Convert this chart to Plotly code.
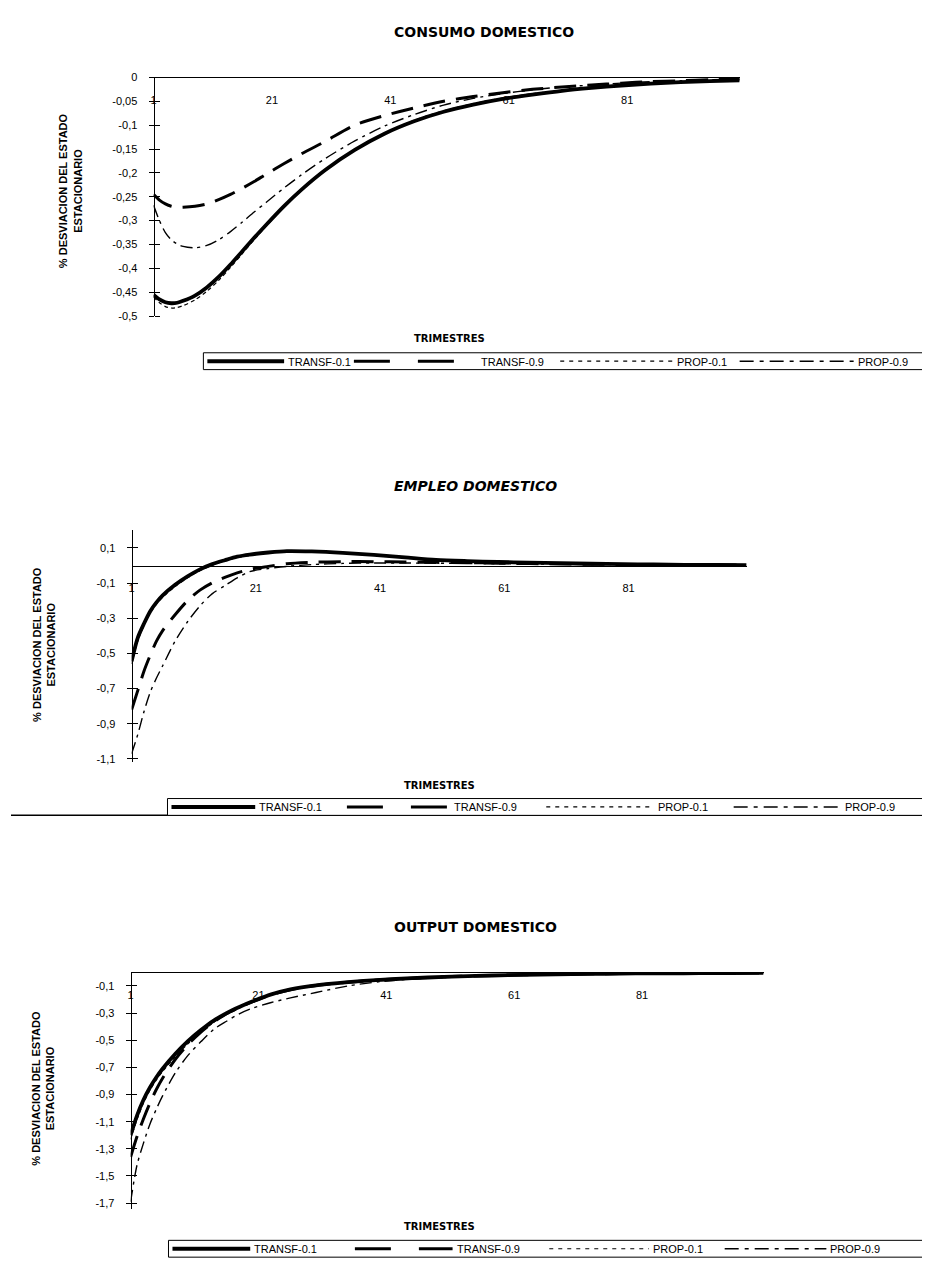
import plotly.graph_objects as go

W, H = 930, 1273

# ---------------- data ----------------
periods = [1, 2, 3, 4, 5, 6, 8, 10, 12, 14, 16, 18, 20, 23, 26, 30, 35, 40, 45, 50,
           55, 60, 65, 70, 75, 80, 85, 90, 95, 100]

series_names = ["TRANSF-0.1", "TRANSF-0.9", "PROP-0.1", "PROP-0.9"]

# CONSUMO DOMESTICO
cons_transf01 = [-0.455, -0.465, -0.471, -0.473, -0.472, -0.468, -0.457, -0.440, -0.418, -0.392,
                 -0.364, -0.336, -0.309, -0.270, -0.235, -0.194, -0.152, -0.118, -0.092, -0.072,
                 -0.057, -0.045, -0.036, -0.028, -0.022, -0.017, -0.013, -0.010, -0.008, -0.006]
cons_transf09 = [-0.245, -0.257, -0.265, -0.270, -0.272, -0.272, -0.270, -0.265, -0.256, -0.245,
                 -0.232, -0.218, -0.203, -0.181, -0.160, -0.134, -0.100, -0.080, -0.064, -0.050,
                 -0.040, -0.032, -0.025, -0.020, -0.016, -0.012, -0.009, -0.007, -0.005, -0.004]
cons_prop01 = [-0.460, -0.472, -0.480, -0.483, -0.482, -0.478, -0.466, -0.448, -0.425, -0.398,
               -0.369, -0.340, -0.312, -0.272, -0.236, -0.195, -0.152, -0.117, -0.090, -0.070,
               -0.055, -0.043, -0.034, -0.027, -0.021, -0.016, -0.012, -0.009, -0.007, -0.005]
cons_prop09 = [-0.268, -0.300, -0.325, -0.340, -0.349, -0.354, -0.357, -0.352, -0.340, -0.323,
               -0.303, -0.282, -0.262, -0.232, -0.204, -0.170, -0.133, -0.102, -0.078, -0.058,
               -0.044, -0.034, -0.026, -0.020, -0.016, -0.012, -0.009, -0.007, -0.005, -0.004]

# EMPLEO DOMESTICO
emp_transf01 = [-0.545, -0.410, -0.330, -0.260, -0.210, -0.170, -0.110, -0.062, -0.022, 0.008,
                0.030, 0.050, 0.062, 0.074, 0.082, 0.080, 0.072, 0.060, 0.046, 0.032,
                0.025, 0.020, 0.016, 0.013, 0.010, 0.008, 0.006, 0.004, 0.003, 0.002]
emp_transf09 = [-0.820, -0.710, -0.600, -0.510, -0.430, -0.370, -0.280, -0.200, -0.140, -0.098,
                -0.068, -0.042, -0.022, -0.005, 0.010, 0.018, 0.022, 0.022, 0.020, 0.018,
                0.016, 0.013, 0.011, 0.009, 0.007, 0.006, 0.005, 0.004, 0.003, 0.002]
emp_prop01 = [-0.560, -0.430, -0.340, -0.270, -0.220, -0.180, -0.120, -0.070, -0.030, 0.002,
              0.025, 0.045, 0.057, 0.070, 0.078, 0.077, 0.070, 0.058, 0.045, 0.032,
              0.025, 0.020, 0.016, 0.013, 0.010, 0.008, 0.006, 0.004, 0.003, 0.002]
emp_prop09 = [-1.070, -0.960, -0.830, -0.720, -0.640, -0.570, -0.430, -0.320, -0.230, -0.160,
              -0.115, -0.070, -0.035, -0.017, -0.005, 0.005, 0.012, 0.014, 0.014, 0.013,
              0.012, 0.010, 0.009, 0.007, 0.006, 0.005, 0.004, 0.003, 0.002, 0.002]

# OUTPUT DOMESTICO
out_transf01 = [-1.200, -1.055, -0.940, -0.850, -0.775, -0.710, -0.600, -0.505, -0.425, -0.355,
                -0.300, -0.255, -0.215, -0.162, -0.125, -0.095, -0.072, -0.055, -0.043, -0.033,
                -0.026, -0.020, -0.016, -0.013, -0.010, -0.008, -0.007, -0.006, -0.005, -0.004]
out_transf09 = [-1.360, -1.210, -1.080, -0.965, -0.865, -0.780, -0.640, -0.530, -0.440, -0.365,
                -0.305, -0.258, -0.217, -0.165, -0.128, -0.097, -0.072, -0.055, -0.043, -0.033,
                -0.026, -0.020, -0.016, -0.013, -0.010, -0.008, -0.007, -0.006, -0.005, -0.004]
out_prop01 = [-1.230, -1.085, -0.965, -0.870, -0.795, -0.730, -0.620, -0.525, -0.440, -0.368,
              -0.310, -0.263, -0.222, -0.168, -0.130, -0.099, -0.074, -0.057, -0.044, -0.034,
              -0.026, -0.020, -0.016, -0.013, -0.010, -0.008, -0.007, -0.006, -0.005, -0.004]
out_prop09 = [-1.690, -1.420, -1.260, -1.120, -1.010, -0.910, -0.740, -0.610, -0.510, -0.420,
              -0.360, -0.305, -0.265, -0.222, -0.188, -0.148, -0.100, -0.068, -0.050, -0.038,
              -0.029, -0.022, -0.017, -0.014, -0.011, -0.009, -0.007, -0.006, -0.005, -0.004]

x_tick_vals = [1, 21, 41, 61, 81]
x_tick_text = ["1", "21", "41", "61", "81"]

cons_tick_vals = [0, -0.05, -0.1, -0.15, -0.2, -0.25, -0.3, -0.35, -0.4, -0.45, -0.5]
cons_tick_text = ["0", "-0,05", "-0,1", "-0,15", "-0,2", "-0,25", "-0,3", "-0,35", "-0,4", "-0,45", "-0,5"]
emp_tick_vals = [0.1, -0.1, -0.3, -0.5, -0.7, -0.9, -1.1]
emp_tick_text = ["0,1", "-0,1", "-0,3", "-0,5", "-0,7", "-0,9", "-1,1"]
out_tick_vals = [-0.1, -0.3, -0.5, -0.7, -0.9, -1.1, -1.3, -1.5, -1.7]
out_tick_text = ["-0,1", "-0,3", "-0,5", "-0,7", "-0,9", "-1,1", "-1,3", "-1,5", "-1,7"]

titles = ["CONSUMO DOMESTICO", "EMPLEO DOMESTICO", "OUTPUT DOMESTICO"]
x_title = "TRIMESTRES"
y_title = "% DESVIACION DEL ESTADO<br>ESTACIONARIO"

# ---------------- styles ----------------
styles = [
    dict(width=3.8, dash="solid"),
    dict(width=3.0, dash="22px,11px"),
    dict(width=1.2, dash="4px,3px"),
    dict(width=1.4, dash="12px,5px,3px,5px"),
]
legend_dash = ["solid", "36px,28px", "4px,5px", "14px,6px,4px,6px"]
legend_width = [4.0, 3.0, 1.2, 1.4]
FONT = "Liberation Sans, Arial, sans-serif"
TFONT = "DejaVu Sans, Liberation Sans, sans-serif"


def px_x(p):
    return p / W


def px_y(p):
    return 1 - p / H


charts = [
    dict(data=[cons_transf01, cons_transf09, cons_prop01, cons_prop09],
         xdom=(143, 731), ytop=64, ybot=305, yrange=(-0.5, 0.0), zero_px=64,
         tv=cons_tick_vals, tt=cons_tick_text,
         box=(193, 925, 342, 359),
         samples=[(197, 274), (344, 468), (551, 664), (731, 846)],
         texts=[276, 470, 666, 848],
         title_y=18, title_italic=False,
         ytitle_x=60, ytitle_y=178, xtitle_x=440, xtitle_y=328),
    dict(data=[emp_transf01, emp_transf09, emp_prop01, emp_prop09],
         xdom=(121, 738), ytop=521.25, ybot=754.7, yrange=(-1.115, 0.2), zero_px=556.75,
         tv=emp_tick_vals, tt=emp_tick_text,
         box=(157, 926, 792, 809),
         samples=[(161, 245), (337, 440), (537, 645), (725, 833)],
         texts=[247, 442, 647, 835],
         title_y=476, title_italic=True,
         ytitle_x=33, ytitle_y=636, xtitle_x=430, xtitle_y=779),
    dict(data=[out_transf01, out_transf09, out_prop01, out_prop09],
         xdom=(120, 755), ytop=967.5, ybot=1205.9, yrange=(-1.74, 0.0), zero_px=967.5,
         tv=out_tick_vals, tt=out_tick_text,
         box=(158, 918, 1238, 1255),
         samples=[(162, 240), (345, 443), (540, 640), (716, 818)],
         texts=[242, 445, 642, 820],
         title_y=922, title_italic=False,
         ytitle_x=32, ytitle_y=1084, xtitle_x=430, xtitle_y=1224),
]

fig = go.Figure()
layout = dict(
    width=W, height=H, margin=dict(l=0, r=0, t=0, b=0),
    paper_bgcolor="white", plot_bgcolor="white", showlegend=False,
    font=dict(family=FONT, color="black", size=10),
)
annotations = []
shapes = []

for i, ch in enumerate(charts):
    xn = "x" if i == 0 else f"x{i+1}"
    yn = "y" if i == 0 else f"y{i+1}"
    xk = "xaxis" if i == 0 else f"xaxis{i+1}"
    yk = "yaxis" if i == 0 else f"yaxis{i+1}"
    yn2 = f"y{i+4}"
    yk2 = f"yaxis{i+4}"
    for j, name in enumerate(series_names):
        fig.add_trace(go.Scatter(
            x=periods, y=ch["data"][j], name=name, mode="lines",
            line=dict(color="black", width=styles[j]["width"], dash=styles[j]["dash"], shape="spline",
                      smoothing=0.8),
            xaxis=xn, yaxis=yn, showlegend=False,
        ))
    # companion axis that draws the tick marks on the inner side of the value axis
    fig.add_trace(go.Scatter(x=[None], y=[None], xaxis=xn, yaxis=yn2, showlegend=False,
                             hoverinfo="skip"))
    layout[xk] = dict(
        domain=[px_x(ch["xdom"][0]), px_x(ch["xdom"][1])], range=[1, 100],
        anchor="free", position=px_y(ch["zero_px"]), side="bottom",
        showline=True, linecolor="black", linewidth=1,
        tickvals=x_tick_vals, ticktext=x_tick_text, ticks="",
        ticklabelstandoff=12,
        showgrid=False, zeroline=False, tickfont=dict(size=11, family=FONT),
    )
    common_y = dict(
        domain=[px_y(ch["ybot"]), px_y(ch["ytop"])], range=list(ch["yrange"]),
        anchor="free", position=px_x(ch["xdom"][0]),
        tickvals=ch["tv"], ticklen=5, tickcolor="black", tickwidth=1,
        showgrid=False, zeroline=False,
    )
    layout[yk] = dict(
        **common_y, showline=True, linecolor="black", linewidth=1,
        ticktext=ch["tt"], ticks="outside", ticklabelstandoff=9,
        tickfont=dict(size=11, family=FONT),
    )
    layout[yk2] = dict(
        **common_y, overlaying=yn, side="right", showline=False, ticks="outside",
        showticklabels=False,
    )

    # legend drawn as a framed row of line samples and labels
    bx0, bx1, by0, by1 = ch["box"]
    shapes.append(dict(type="rect", xref="paper", yref="paper",
                       x0=px_x(bx0), x1=px_x(bx1), y0=px_y(by1), y1=px_y(by0),
                       line=dict(color="black", width=1), fillcolor="white"))
    ymid = (by0 + by1) / 2
    for j, name in enumerate(series_names):
        sx0, sx1 = ch["samples"][j]
        shapes.append(dict(type="line", xref="paper", yref="paper",
                           x0=px_x(sx0), x1=px_x(sx1), y0=px_y(ymid), y1=px_y(ymid),
                           line=dict(color="black", width=legend_width[j], dash=legend_dash[j])))
        annotations.append(dict(
            text=name, x=px_x(ch["texts"][j]), y=px_y(ymid + 0.5), xref="paper", yref="paper",
            showarrow=False, xanchor="left", yanchor="middle",
            font=dict(size=11, family=FONT),
        ))

    t = titles[i]
    annotations.append(dict(
        text=(f"<i><b>{t}</b></i>" if ch["title_italic"] else f"<b>{t}</b>"),
        x=px_x(382), y=px_y(ch["title_y"]), xref="paper", yref="paper",
        showarrow=False, font=dict(size=14, family=TFONT), xanchor="left", yanchor="middle",
    ))
    annotations.append(dict(
        text=f"<b>{x_title}</b>", x=px_x(ch["xtitle_x"]), y=px_y(ch["xtitle_y"]),
        xref="paper", yref="paper", showarrow=False, font=dict(size=10, family=TFONT),
        xanchor="center", yanchor="middle",
    ))
    annotations.append(dict(
        text=f"<b>{y_title}</b>", x=px_x(ch["ytitle_x"]), y=px_y(ch["ytitle_y"]),
        xref="paper", yref="paper", showarrow=False, textangle=-90,
        font=dict(size=11, family=FONT), xanchor="center", yanchor="middle",
    ))

# long rule under the second legend
shapes.insert(0, dict(type="line", xref="paper", yref="paper",
                      x0=0, x1=1, y0=px_y(809), y1=px_y(809),
                      line=dict(color="black", width=1.5)))

layout["annotations"] = annotations
layout["shapes"] = shapes
fig.update_layout(**layout)
fig.write_html("out.html")
